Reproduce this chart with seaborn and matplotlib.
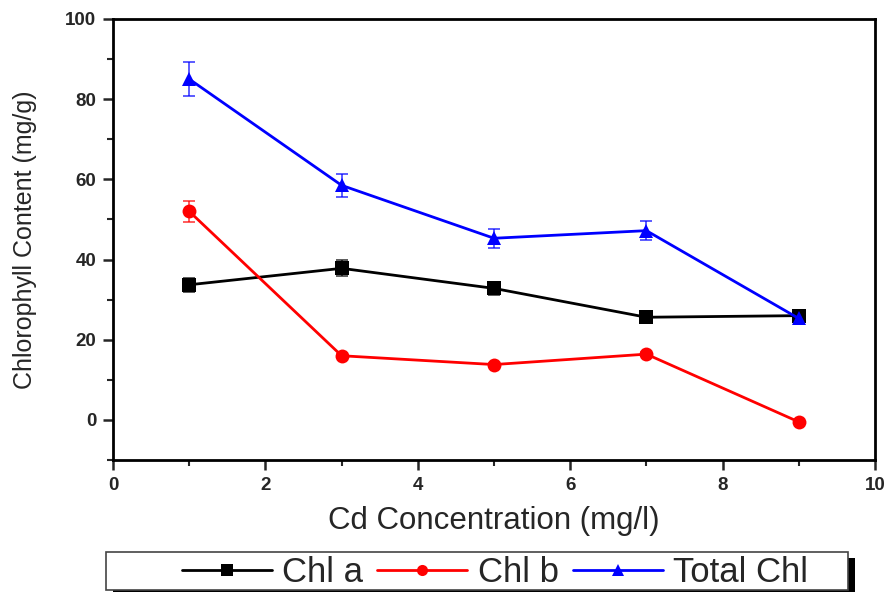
import matplotlib
matplotlib.use("Agg")
import matplotlib.pyplot as plt
from matplotlib.patches import Rectangle
from matplotlib.ticker import MultipleLocator
import numpy as np
import pandas as pd
import seaborn as sns

# Cd concentration (mg/l)
cd_conc = [1, 3, 5, 7, 9]

# Chlorophyll content (mg/g) and standard deviations
chl_a = [33.7, 37.8, 32.8, 25.6, 26.0]
chl_a_sd = [1.7, 2.0, 1.6, 0.8, 0.8]
chl_b = [52.0, 16.0, 13.8, 16.4, -0.5]
chl_b_sd = [2.6, 0.5, 0.5, 0.5, 0.5]
total_chl = [85.0, 58.5, 45.3, 47.2, 25.3]
total_chl_sd = [4.3, 2.9, 2.4, 2.4, 1.0]

series_names = ["Chl a", "Chl b", "Total Chl"]
series_colors = ["#000000", "#ff0000", "#0000ff"]
series_markers = ["s", "o", "^"]

sns.set_style("ticks")
plt.rcParams["font.family"] = ["Liberation Sans", "DejaVu Sans"]

df = pd.DataFrame({
    "conc": cd_conc * 3,
    "value": chl_a + chl_b + total_chl,
    "series": [n for n in series_names for _ in cd_conc],
})

fig = plt.figure(figsize=(8.88, 5.92), dpi=100)
ax = fig.add_axes([0.1273, 0.223, 0.858, 0.745])

sns.lineplot(
    data=df, x="conc", y="value", hue="series", style="series",
    hue_order=series_names, style_order=series_names,
    palette=dict(zip(series_names, series_colors)),
    markers=dict(zip(series_names, series_markers)),
    dashes=False, markersize=10, linewidth=2, markeredgewidth=0,
    legend=True, ax=ax, zorder=3,
)

for vals, sds, col in zip([chl_a, chl_b, total_chl],
                          [chl_a_sd, chl_b_sd, total_chl_sd], series_colors):
    ax.errorbar(cd_conc, vals, yerr=sds, fmt="none", ecolor=col, alpha=0.75,
                elinewidth=1.2, capsize=4, capthick=1.2, zorder=2)

ax.set_xlim(0, 10)
ax.set_ylim(-10, 100)
ax.xaxis.set_major_locator(MultipleLocator(2))
ax.xaxis.set_minor_locator(MultipleLocator(1))
ax.set_yticks([0, 20, 40, 60, 80, 100])
ax.set_yticks([-10, 10, 30, 50, 70, 90], minor=True)
ax.tick_params(axis="both", which="major", direction="out", length=7, width=1.8,
               labelsize=13.5, pad=5)
ax.tick_params(axis="both", which="minor", direction="out", length=4, width=1.5)
for lab in ax.get_xticklabels() + ax.get_yticklabels():
    lab.set_fontweight("bold")

for sp in ax.spines.values():
    sp.set_linewidth(2)
    sp.set_color("black")

ax.set_xlabel("Cd Concentration (mg/l)", fontsize=22.5, labelpad=9)
ax.set_ylabel("Chlorophyll Content (mg/g)", fontsize=18, labelpad=20)

handles, labels = ax.get_legend_handles_labels()
ax.get_legend().remove()
for h in handles:
    h.set_markersize(8)

# Legend box with a solid drop shadow below the axes
box_x0, box_y0, box_w, box_h = 106 / 888, 1 - 590 / 592, 742 / 888, 38 / 592
shadow = Rectangle((box_x0 + 7 / 888, box_y0 - 6 / 592), box_w, box_h,
                   transform=fig.transFigure, facecolor="black", edgecolor="none",
                   zorder=1)
frame = Rectangle((box_x0, box_y0), box_w, box_h, transform=fig.transFigure,
                  facecolor="white", edgecolor="#444444", linewidth=1.2, zorder=2)
fig.patches.extend([shadow, frame])

leg = fig.legend(handles, labels, loc="center", bbox_to_anchor=(495 / 888, 1 - 573 / 592),
                 ncol=3, frameon=False, fontsize=25, handlelength=2.6,
                 handletextpad=0.3, columnspacing=0.4, borderpad=0)
leg.set_zorder(3)

fig.savefig("out.png", dpi=100)
